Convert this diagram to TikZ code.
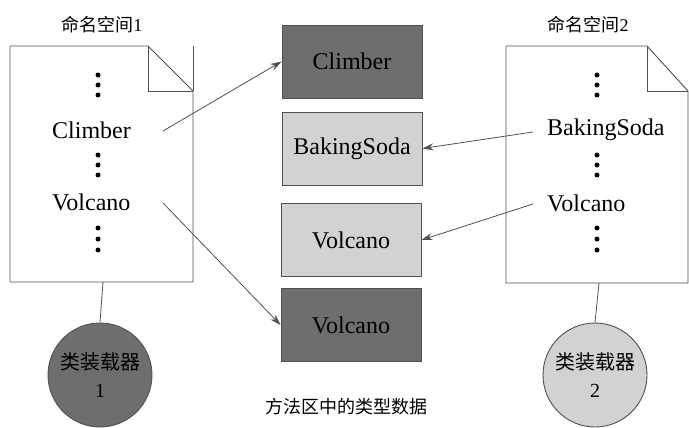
\documentclass[tikz,border=0pt]{standalone}
\usepackage{fontspec}
\setmainfont{Liberation Serif}
\newfontfamily\tms{Liberation Serif}
\newfontfamily\cjk{Noto Sans CJK SC}
\usetikzlibrary{arrows.meta}
\definecolor{darkfill}{HTML}{6E6E6E}
\definecolor{lightfill}{HTML}{D2D2D2}
\definecolor{edge}{HTML}{505050}
\begin{document}
\begin{tikzpicture}[x=1pt,y=-1pt,
  doc/.style={draw=edge, line width=0.9pt, fill=white},
  typebox/.style={draw=edge, line width=0.9pt, minimum width=140pt, minimum height=73pt, inner sep=0pt, font=\tms\fontsize{24}{28}\selectfont},
  darkbox/.style={typebox, fill=darkfill},
  lightbox/.style={typebox, fill=lightfill},
  entry/.style={anchor=west, inner sep=0pt, font=\tms\fontsize{24}{28}\selectfont},
  title/.style={font=\cjk\fontsize{18}{22}\selectfont, inner sep=0pt},
  loader/.style={circle, draw=edge, line width=0.9pt, minimum size=104pt, inner sep=0pt, align=center, font=\cjk\fontsize{20}{28}\selectfont},
  dotmark/.style={circle, fill=black, inner sep=0pt, minimum size=5pt},
  link/.style={draw=edge, line width=0.8pt},
  arr/.style={draw=edge, line width=0.8pt, -{Stealth[length=11pt,width=7pt]}}
]
\useasboundingbox (0,0) rectangle (689,428);

% left document
\draw[doc] (10,46) -- (148,46) -- (193,91) -- (193,282) -- (10,282) -- cycle;
\draw[edge, line width=0.9pt] (148,46) -- (148,91) -- (193,91);
\draw[edge, line width=0.7pt] (193,46) -- (193,91);
\node[title] (t1) at (102,25) {命名空间{\tms 1}};
\foreach \y in {75,85,95} \node[dotmark] at (98,\y) {};
\node[entry] (lclimb) at (52,130) {Climber};
\foreach \y in {155,165,175} \node[dotmark] at (98,\y) {};
\node[entry] (lvolc) at (52,202) {Volcano};
\foreach \y in {228,239,250} \node[dotmark] at (98,\y) {};
\coordinate (d1bot) at (103,282);

% right document
\draw[doc] (506,46) -- (647,46) -- (688,91) -- (688,283) -- (506,283) -- cycle;
\draw[edge, line width=0.9pt] (647,46) -- (647,91) -- (688,91);
\node[title] (t2) at (588,25) {命名空间{\tms 2}};
\foreach \y in {75,85,95} \node[dotmark] at (597,\y) {};
\node[entry] (rbake) at (547,130) {BakingSoda};
\foreach \y in {155,165,175} \node[dotmark] at (597,\y) {};
\node[entry] (rvolc) at (547,203) {Volcano};
\foreach \y in {228,239,250} \node[dotmark] at (597,\y) {};
\coordinate (d2bot) at (599,283);

% method area boxes
\node[darkbox] (b1) at (352,61.5) {Climber};
\node[lightbox] (b2) at (352,148.5) {BakingSoda};
\node[lightbox] (b3) at (351,240) {Volcano};
\node[darkbox] (b4) at (351,325) {Volcano};
\node[title] (cap) at (346,407) {方法区中的类型数据};

% class loaders
\node[loader, fill=darkfill] (c1) at (100,375) {类装载器\\{\tms 1}};
\node[loader, fill=lightfill] (c2) at (595,375) {类装载器\\{\tms 2}};
\draw[link] (d1bot) -- (c1.north);
\draw[link] (d2bot) -- (c2.north);

% arrows
\coordinate (s1) at (163,131);
\coordinate (s2) at (163,203);
\coordinate (s3) at (533,132);
\coordinate (s4) at (533,204);
\draw[arr] (s1) -- (b1.west);
\draw[arr] (s2) -- (b4.west);
\draw[arr] (s3) -- (b2.east);
\draw[arr] (s4) -- (b3.east);
\end{tikzpicture}
\end{document}
